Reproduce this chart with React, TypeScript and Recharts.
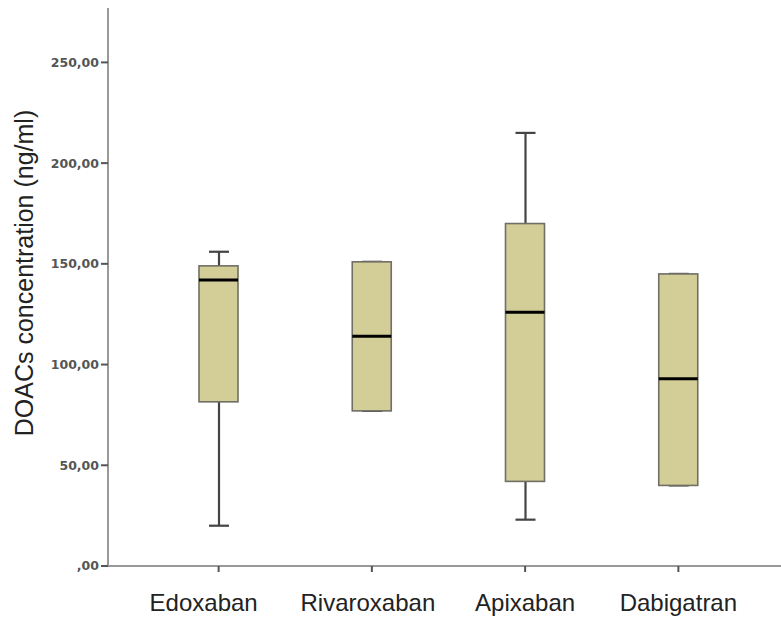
import React from 'react';
import { ComposedChart, Bar, XAxis, YAxis, Label } from 'recharts';

const categories = ['Edoxaban', 'Rivaroxaban', 'Apixaban', 'Dabigatran'];
const minValues = [20, 77, 23, 40];
const q1Values = [81.5, 77, 42, 40];
const medianValues = [142, 114, 126, 93];
const q3Values = [149, 151, 170, 145];
const maxValues = [156, 151, 215, 145];
const yTicks = [0, 50, 100, 150, 200, 250];

const data = categories.map((name, i) => ({
  name,
  whisker: [minValues[i], maxValues[i]],
  box: [q1Values[i], q3Values[i]],
  q1: q1Values[i],
  median: medianValues[i],
  q3: q3Values[i],
}));

const BOX_FILL = '#d3cd97';
const xPadding = { left: 34, right: 26 };
// the first label sits a bit left of its tick in the original
const labelShift = [-15, -4, 0, 0];

const WhiskerShape = (props: any) => {
  const { x, y, width, height } = props;
  const cx = x + width / 2;
  return (
    <g stroke="#444" strokeWidth={2.2}>
      <line x1={cx} x2={cx} y1={y} y2={y + height} />
      <line x1={x} x2={x + width} y1={y} y2={y} />
      <line x1={x} x2={x + width} y1={y + height} y2={y + height} />
    </g>
  );
};

const BoxShape = (props: any) => {
  const { x, y, width, height, payload } = props;
  const span = payload.q3 - payload.q1;
  const my = y + (height * (payload.q3 - payload.median)) / span;
  return (
    <g>
      <rect x={x} y={y} width={width} height={height} fill={BOX_FILL} stroke="#6f6f66" strokeWidth={1.6} />
      <line x1={x} x2={x + width} y1={my} y2={my} stroke="#000" strokeWidth={3} />
    </g>
  );
};

const CategoryTick = (props: any) => {
  const { x, y, payload, index } = props;
  return (
    <text
      x={x + (labelShift[index] || 0)}
      y={y + 37}
      textAnchor="middle"
      fontSize={24}
      fontFamily="Liberation Sans, Arial, sans-serif"
      fill="#222"
    >
      {payload.value}
    </text>
  );
};

const fmt = (v: number) => (v === 0 ? ',00' : `${v},00`);

export default function App() {
  return (
    <div style={{ position: 'absolute', left: 0, top: 0, width: 781, height: 619, background: '#fff' }}>
      <ComposedChart width={781} height={619} data={data} margin={{ top: 8, right: 0, left: 0, bottom: 0 }}>
        <XAxis
          xAxisId="main"
          dataKey="name"
          padding={xPadding}
          height={53}
          axisLine={{ stroke: '#999', strokeWidth: 2 }}
          tickLine={{ stroke: '#555', strokeWidth: 2 }}
          tickSize={6}
          tick={CategoryTick}
          interval={0}
        />
        <XAxis xAxisId="w" dataKey="name" padding={xPadding} hide />
        <YAxis
          xAxisId="main"
          width={108}
          domain={[0, 277]}
          ticks={yTicks}
          tickFormatter={fmt}
          allowDataOverflow
          axisLine={{ stroke: '#999', strokeWidth: 2 }}
          tickLine={{ stroke: '#555', strokeWidth: 2 }}
          tickSize={7}
          tickMargin={2}
          tick={{ fill: '#555', fontSize: 12.5, fontWeight: 'bold', fontFamily: 'DejaVu Sans, sans-serif' }}
        >
          <Label
            content={() => (
              <text
                x={33}
                y={273}
                transform="rotate(-90, 33, 273)"
                textAnchor="middle"
                fontSize={25}
                fontFamily="Liberation Sans, Arial, sans-serif"
                fill="#222"
              >
                DOACs concentration (ng/ml)
              </text>
            )}
          />
        </YAxis>
        <Bar xAxisId="w" dataKey="whisker" barSize={20} shape={WhiskerShape} isAnimationActive={false} />
        <Bar xAxisId="main" dataKey="box" barSize={39} shape={BoxShape} isAnimationActive={false} />
      </ComposedChart>
    </div>
  );
}
